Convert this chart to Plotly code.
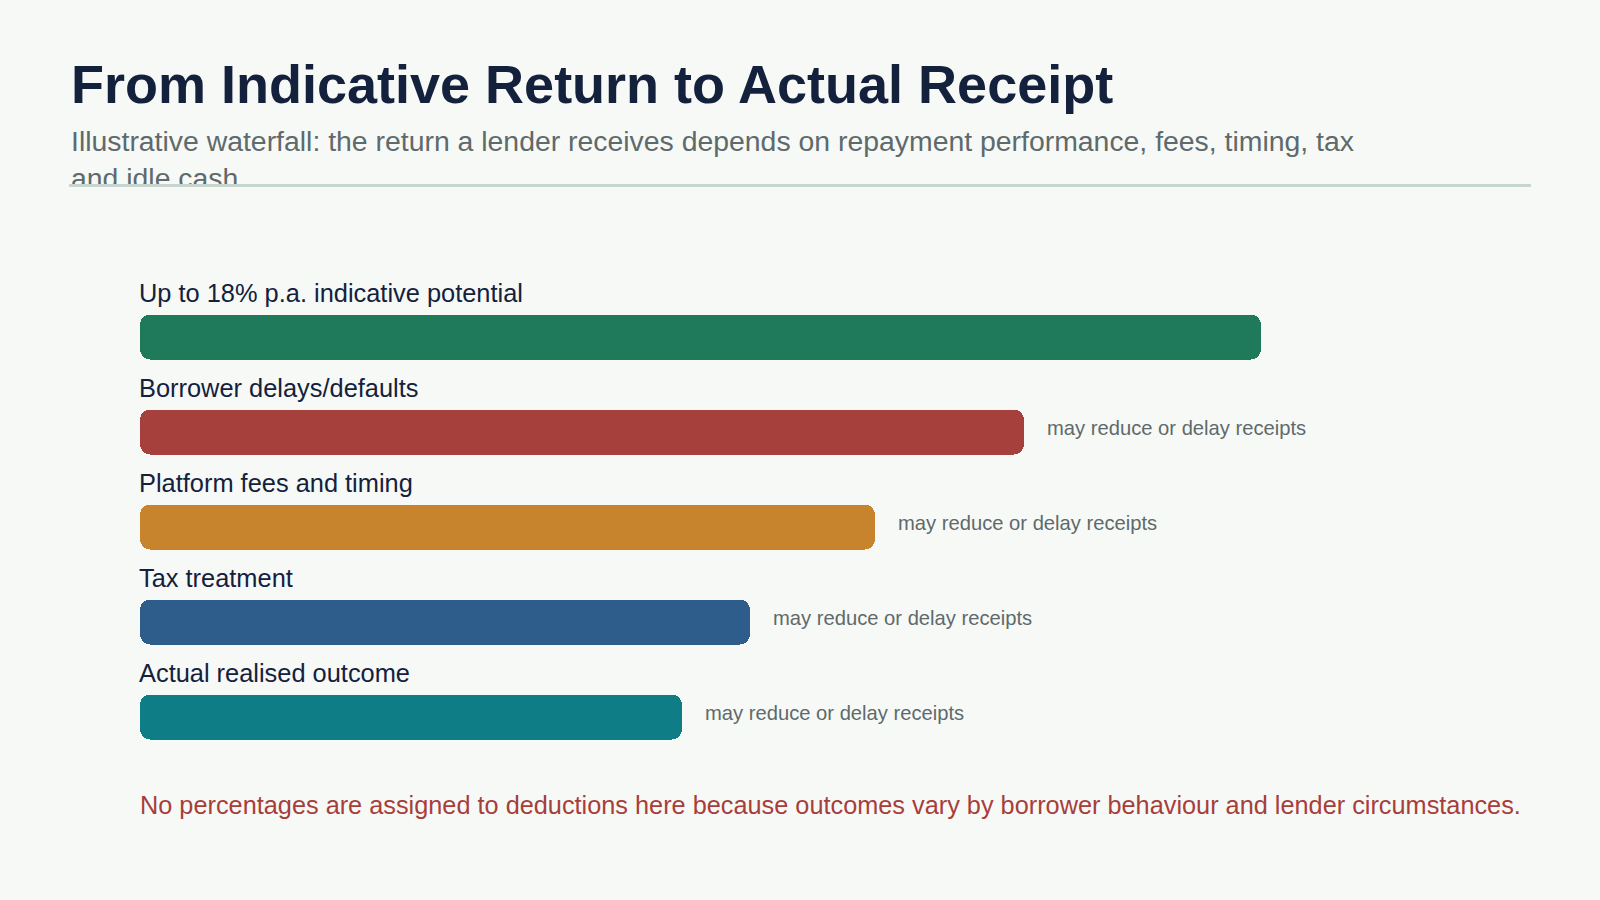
import plotly.graph_objects as go

# illustrative path from indicative return to realised outcome (% p.a.)
stages = [
    "Up to 18% p.a. indicative potential",
    "Borrower delays/defaults",
    "Platform fees and timing",
    "Tax treatment",
    "Actual realised outcome",
]
values = [18, 14.2, 11.8, 9.8, 8.7]
notes = ["", "may reduce or delay receipts", "may reduce or delay receipts",
         "may reduce or delay receipts", "may reduce or delay receipts"]
colors = ["#1f7a5c", "#a5403c", "#c8842c", "#2e5d8c", "#0e7d86"]

title = "From Indicative Return to Actual Receipt"
subtitle = ("Illustrative waterfall: the return a lender receives depends on repayment performance, fees, timing, tax"
            "<br>and idle cash")
footnote = ("No percentages are assigned to deductions here because outcomes vary by borrower "
            "behaviour and lender circumstances.")

W, H = 1600, 900
bg = "#f7f9f7"
ink = "#14213d"
muted = "#5e6a6b"
font = "Liberation Sans, Arial, sans-serif"
bar_w = 0.47

fig = go.Figure()
# right part of each bar (rounded at the right end)
fig.add_trace(go.Bar(
    x=[v * 0.55 for v in values], base=[v * 0.45 for v in values], y=stages,
    orientation="h", width=bar_w,
    marker=dict(color=colors, line_width=0, cornerradius=10),
    hoverinfo="skip", showlegend=False,
))
# left part drawn back towards zero so the left end gets rounded too
halves = [v / 2 for v in values]
fig.add_trace(go.Bar(
    x=[-h for h in halves], base=halves, y=stages, orientation="h", width=bar_w,
    marker=dict(color=colors, line_width=0, cornerradius=10),
    hoverinfo="skip", showlegend=False,
))

# subtitle as a text trace on its own pixel-scaled subplot so the rule clips its 2nd line
fig.add_trace(go.Scatter(
    x=[71], y=[-130], mode="text", text=[subtitle], textposition="bottom right",
    textfont=dict(size=28.4, color=muted, family=font),
    cliponaxis=True, hoverinfo="skip", showlegend=False, xaxis="x2", yaxis="y2",
))

# stage labels above bars, notes beside them
for s, v, n in zip(stages, values, notes):
    fig.add_annotation(x=0, y=s, xref="x", yref="y", text=s, showarrow=False,
                       xanchor="left", yanchor="middle", xshift=-3, yshift=44,
                       font=dict(size=25.4, color=ink, family=font))
    if n:
        fig.add_annotation(x=v, y=s, xref="x", yref="y", text=n, showarrow=False,
                           xanchor="left", yanchor="middle", xshift=21, yshift=4,
                           font=dict(size=20.2, color=muted, family=font))

fig.add_annotation(x=69 / W, y=1 - 84 / H, xref="paper", yref="paper", text="<b>" + title + "</b>",
                   showarrow=False, xanchor="left", yanchor="middle",
                   font=dict(size=54, color=ink, family=font))
fig.add_annotation(x=138 / W, y=1 - 805 / H, xref="paper", yref="paper", text=footnote,
                   showarrow=False, xanchor="left", yanchor="middle",
                   font=dict(size=25.3, color="#a83e3a", family=font))

fig.add_shape(type="line", xref="paper", yref="paper", x0=69 / W, x1=1531 / W,
              y0=1 - 185.5 / H, y1=1 - 185.5 / H, line=dict(color="#c9d6cf", width=3))

fig.update_layout(
    width=W, height=H,
    margin=dict(l=0, r=0, t=0, b=0),
    paper_bgcolor=bg, plot_bgcolor="rgba(0,0,0,0)",
    barmode="overlay", bargap=0,
    xaxis=dict(domain=[140 / W, 1385.6 / W], range=[0, 20], visible=False, fixedrange=True),
    yaxis=dict(domain=[1 - 764.5 / H, 1 - 289.5 / H], range=[4.5, -0.5], visible=False,
               fixedrange=True),
    xaxis2=dict(domain=[0, 1], range=[0, W], visible=False, fixedrange=True),
    yaxis2=dict(domain=[1 - 184 / H, 1], range=[-184, 0], visible=False, fixedrange=True),
)

fig.write_html(
    "out.html",
    config={"displayModeBar": False},
    post_script="document.body.style.margin='0';document.body.style.background='" + bg + "';",
)
